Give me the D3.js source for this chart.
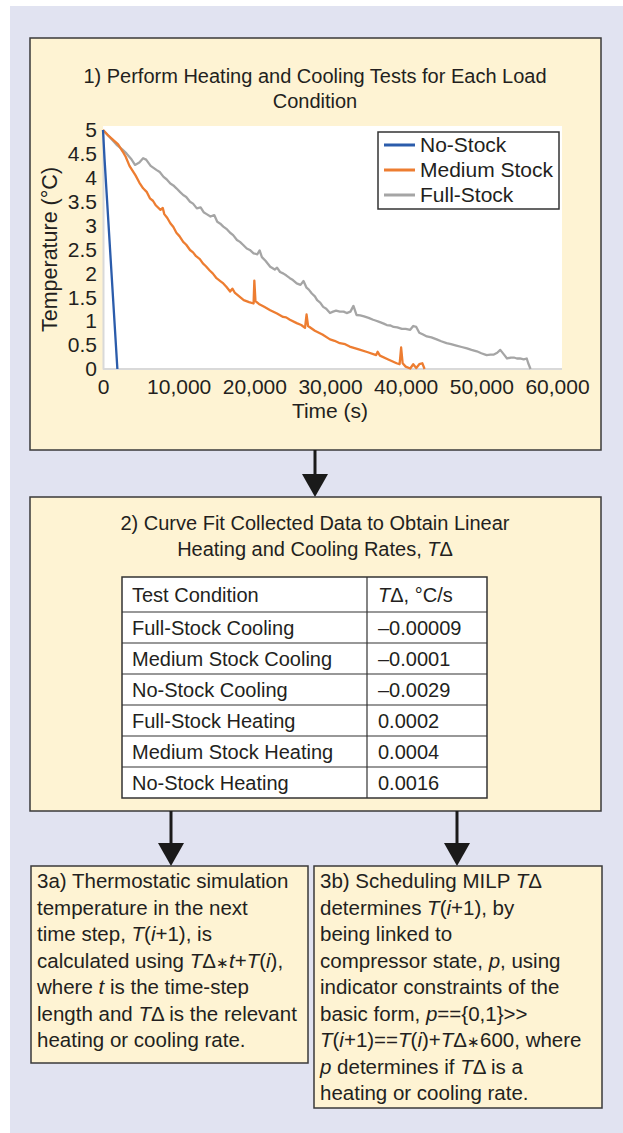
<!DOCTYPE html>
<html>
<head>
<meta charset="utf-8">
<script src="https://cdn.jsdelivr.net/npm/d3@7"></script>
<style>
  body { margin: 0; background: #fff; }
  svg text { font-family: "Liberation Sans", Arial, sans-serif; fill: #231f20; }
</style>
</head>
<body>
<div id="figure"></div>
<script>
// series values: [time (s), temperature (°C)]
const noStock = [[0, 5.0], [200, 4.4], [1900, 0.0]];

const mediumStock = [
  [0, 5.0], [600, 4.9], [1300, 4.8], [2000, 4.7], [2600, 4.55], [3000, 4.44], [3500, 4.25], [4300, 4.05],
  [4800, 3.9], [5300, 3.78], [5800, 3.7], [6200, 3.57], [6600, 3.52], [7000, 3.42], [7600, 3.33], [7900, 3.37], [8100, 3.24],
  [8500, 3.16], [8900, 3.05], [9300, 2.97], [9700, 2.85], [10100, 2.78], [10600, 2.66], [11000, 2.6], [11500, 2.49],
  [11900, 2.44], [12300, 2.36], [12800, 2.3], [13200, 2.21], [13600, 2.15], [14100, 2.06], [14500, 2.0], [15000, 1.9],
  [15500, 1.84], [15900, 1.79], [16300, 1.72], [16800, 1.62],
  [17100, 1.68], [17400, 1.6], [18000, 1.52], [18600, 1.44], [19300, 1.4], [19900, 1.37],
  [20000, 1.85], [20150, 1.42], [20600, 1.36], [21300, 1.3], [22100, 1.23], [23000, 1.16],
  [23800, 1.09], [24200, 1.08], [24700, 1.03], [25600, 0.96], [26200, 0.92], [26700, 0.86], [26900, 1.14],
  [27100, 0.9], [28000, 0.8], [29000, 0.72], [30000, 0.62], [30600, 0.59], [31300, 0.54], [32000, 0.52], [32600, 0.47],
  [33800, 0.41], [35000, 0.35], [36100, 0.29], [36300, 0.36], [36600, 0.28], [37700, 0.2],
  [38800, 0.12], [39200, 0.1], [39400, 0.45], [39600, 0.12], [40000, 0.05], [40600, 0.01],
  [41000, 0.1], [41400, 0.02], [41800, 0.1], [42200, 0.12], [42500, 0.0]
];

const fullStock = [
  [0, 5.0], [900, 4.85], [1800, 4.69], [2500, 4.6], [3100, 4.51], [3700, 4.4], [4230, 4.27],
  [4800, 4.32], [5300, 4.41], [5700, 4.38], [6300, 4.25], [7100, 4.16], [7500, 4.12], [8000, 4.02],
  [8400, 3.97], [8900, 3.88], [9300, 3.84], [9700, 3.78], [10200, 3.7], [10600, 3.64], [11000, 3.6],
  [11500, 3.5], [11900, 3.46], [12400, 3.36], [12900, 3.38], [13300, 3.28], [13700, 3.24],
  [14200, 3.19], [14700, 3.22], [15100, 3.08], [15500, 3.04], [15900, 2.98], [16400, 2.92],
  [16800, 2.85], [17200, 2.8], [17700, 2.7], [18100, 2.66], [18500, 2.6], [19000, 2.52],
  [19400, 2.49], [19900, 2.42], [20400, 2.4], [20700, 2.48], [21000, 2.34], [21500, 2.26],
  [22100, 2.14], [22700, 2.08], [23000, 2.12], [23400, 2.03], [23800, 2.0], [24200, 1.96],
  [24700, 1.9], [25100, 1.86], [25600, 1.79], [26100, 1.76], [26500, 1.84], [26900, 1.7],
  [27200, 1.66], [27600, 1.58], [28000, 1.52], [28300, 1.44], [28700, 1.39], [29100, 1.3],
  [29500, 1.26], [30000, 1.17], [30400, 1.2], [30800, 1.22], [31300, 1.2], [31800, 1.2],
  [32200, 1.17], [32700, 1.2], [33100, 1.32], [33500, 1.13], [34000, 1.12], [34500, 1.1],
  [35100, 1.07], [35700, 1.03], [36100, 1.01], [36600, 0.98], [37100, 0.95], [37500, 0.92],
  [38000, 0.91], [38400, 0.88], [38900, 0.87], [39500, 0.84], [40000, 0.84], [40600, 0.82],
  [41000, 0.9], [41400, 0.88], [41800, 0.76], [42300, 0.72], [42800, 0.68], [43400, 0.66],
  [44100, 0.62], [44700, 0.58], [45400, 0.54], [46000, 0.52], [46700, 0.49], [47400, 0.46],
  [48100, 0.43], [48700, 0.4], [49400, 0.37], [50000, 0.33], [50700, 0.29], [51200, 0.3],
  [51600, 0.3], [52100, 0.34], [52500, 0.4], [53000, 0.3], [53400, 0.22], [53900, 0.24],
  [54300, 0.24], [54700, 0.22], [55100, 0.22], [55600, 0.2], [56000, 0.22], [56200, 0.12],
  [56500, 0.0]
];

const seriesNames = ["No-Stock", "Medium Stock", "Full-Stock"];
const seriesColors = ["#2b5cab", "#ed7d31", "#a5a5a5"];
const xTicks = [0, 10000, 20000, 30000, 40000, 50000, 60000];
const yTicks = [0, 0.5, 1, 1.5, 2, 2.5, 3, 3.5, 4, 4.5, 5];

// table and text content (underscores mark italic runs)
const tableHeader = ["Test Condition", "_T_Δ, °C/s"];
const conditions = ["Full-Stock Cooling", "Medium Stock Cooling", "No-Stock Cooling",
  "Full-Stock Heating", "Medium Stock Heating", "No-Stock Heating"];
const rates = ["–0.00009", "–0.0001", "–0.0029", "0.0002", "0.0004", "0.0016"];

const title1 = ["1) Perform Heating and Cooling Tests for Each Load", "Condition"];
const title2 = ["2) Curve Fit Collected Data to Obtain Linear", "Heating and Cooling Rates, _T_Δ"];
const box3a = [
  "3a) Thermostatic simulation",
  "temperature in the next",
  "time step, _T_(_i_+1), is",
  "calculated using _T_Δ∗_t_+_T_(_i_),",
  "where _t_ is the time-step",
  "length and _T_Δ is the relevant",
  "heating or cooling rate."
];
const box3b = [
  "3b) Scheduling MILP _T_Δ",
  "determines _T_(_i_+1), by",
  "being linked to",
  "compressor state, _p_, using",
  "indicator constraints of the",
  "basic form, _p_=={0,1}>>",
  "_T_(_i_+1)==_T_(_i_)+_T_Δ∗600, where",
  "_p_ determines if _T_Δ is a",
  "heating or cooling rate."
];

const svg = d3.select("#figure").append("svg")
  .attr("width", 623)
  .attr("height", 1133);

function richText(g, str, x, y, anchor, size) {
  const t = g.append("text")
    .attr("x", x)
    .attr("y", y)
    .attr("text-anchor", anchor || "start")
    .style("font-size", (size || 21) + "px");
  str.split("_").forEach((s, i) => {
    if (!s) return;
    // keep the multiplication star small, as in the original
    s.split(/(∗)/).forEach(part => {
      if (!part) return;
      const ts = t.append("tspan").style("font-style", i % 2 ? "italic" : "normal").text(part);
      if (part === "∗") ts.style("font-size", "15px");
    });
  });
  return t;
}

function box(x, y, w, h) {
  svg.append("rect")
    .attr("x", x).attr("y", y).attr("width", w).attr("height", h)
    .style("fill", "#fef3d3")
    .style("stroke", "#3a3a3a")
    .style("stroke-width", 1.5);
}

function arrow(cx, y0, y1) {
  svg.append("line")
    .attr("x1", cx).attr("x2", cx).attr("y1", y0).attr("y2", y1 - 22)
    .style("stroke", "#1a1a1a").style("stroke-width", 3);
  svg.append("path")
    .attr("d", `M${cx - 13},${y1 - 23} L${cx + 13},${y1 - 23} L${cx},${y1} Z`)
    .style("fill", "#1a1a1a");
}

// page background
svg.append("rect")
  .attr("x", 10).attr("y", 6).attr("width", 613).attr("height", 1127)
  .style("fill", "#e1e3f1");

// ---- box 1 : chart
box(30, 38, 571, 412);
title1.forEach((s, i) => richText(svg, s, 315, 83 + i * 25, "middle", 20));

const x = d3.scaleLinear().domain([0, 60000]).range([103, 557]);
const y = d3.scaleLinear().domain([0, 5]).range([369, 130]);

svg.append("rect")
  .attr("x", 103).attr("y", 126).attr("width", 459).attr("height", 243)
  .style("fill", "#fff");

const xAxis = svg.append("g")
  .attr("transform", "translate(0,369)")
  .call(d3.axisBottom(x).tickValues(xTicks).tickSize(0).tickPadding(10).tickFormat(d3.format(",")));
xAxis.select(".domain").attr("d", "M103,0H562").style("stroke", "#d9d9d9").style("stroke-width", 2);
xAxis.selectAll("text").style("font-size", "21px").attr("dy", "0.72em");

const yAxis = svg.append("g")
  .attr("transform", "translate(103,0)")
  .call(d3.axisLeft(y).tickValues(yTicks).tickSize(0).tickPadding(6).tickFormat(d => String(d)));
yAxis.select(".domain").style("stroke", "#d9d9d9").style("stroke-width", 2);
yAxis.selectAll("text").style("font-size", "21px");

svg.append("text")
  .attr("transform", `translate(57,${(369 + 130) / 2}) rotate(-90)`)
  .attr("text-anchor", "middle")
  .style("font-size", "21.5px")
  .text("Temperature (°C)");

svg.append("text")
  .attr("x", 330).attr("y", 418)
  .attr("text-anchor", "middle")
  .style("font-size", "21px")
  .text("Time (s)");

const line = d3.line().x(d => x(d[0])).y(d => y(d[1]));
[fullStock, mediumStock, noStock].forEach((s, i) => {
  svg.append("path")
    .datum(s)
    .attr("d", line)
    .style("fill", "none")
    .style("stroke", seriesColors[2 - i])
    .style("stroke-width", 2.3)
    .style("stroke-linejoin", "round");
});

// legend
const legend = svg.append("g");
legend.append("rect")
  .attr("x", 378).attr("y", 132).attr("width", 181).attr("height", 77)
  .style("fill", "#fff").style("stroke", "#333").style("stroke-width", 1.5);
seriesNames.forEach((n, i) => {
  const ly = 145 + i * 25;
  legend.append("line")
    .attr("x1", 384).attr("x2", 415).attr("y1", ly).attr("y2", ly)
    .style("stroke", seriesColors[i]).style("stroke-width", 3);
  legend.append("text")
    .attr("x", 420).attr("y", ly + 7)
    .style("font-size", "21px")
    .text(n);
});

arrow(315, 450, 497);

// ---- box 2 : table
box(30, 497, 571, 314);
title2.forEach((s, i) => richText(svg, s, 315, 530 + i * 26, "middle", 20));

const tx0 = 122, tx1 = 367, tx2 = 487;
const rowTops = [577, 612, 643, 674, 705, 736, 767, 798];
const table = svg.append("g");
table.append("rect")
  .attr("x", tx0).attr("y", rowTops[0]).attr("width", tx2 - tx0).attr("height", rowTops[7] - rowTops[0])
  .style("fill", "#fff").style("stroke", "#333").style("stroke-width", 1.5);
rowTops.slice(1, 7).forEach(ry => {
  table.append("line").attr("x1", tx0).attr("x2", tx2).attr("y1", ry).attr("y2", ry)
    .style("stroke", "#333").style("stroke-width", 1.2);
});
table.append("line").attr("x1", tx1).attr("x2", tx1).attr("y1", rowTops[0]).attr("y2", rowTops[7])
  .style("stroke", "#333").style("stroke-width", 1.2);

const rows = [tableHeader].concat(conditions.map((c, i) => [c, rates[i]]));
rows.forEach((r, i) => {
  const cy = (rowTops[i] + rowTops[i + 1]) / 2 + 7;
  richText(table, r[0], tx0 + 10, cy, "start", 20);
  richText(table, r[1], tx1 + 11, cy, "start", 20);
});

arrow(171, 811, 866);
arrow(457, 811, 866);

// ---- boxes 3a / 3b
box(31, 866, 277, 197);
box3a.forEach((s, i) => richText(svg, s, 37, 888 + i * 26.5, "start", 20.5));

box(314, 866, 288, 242);
box3b.forEach((s, i) => richText(svg, s, 320, 888 + i * 26.5, "start", 20.5));
</script>
</body>
</html>
